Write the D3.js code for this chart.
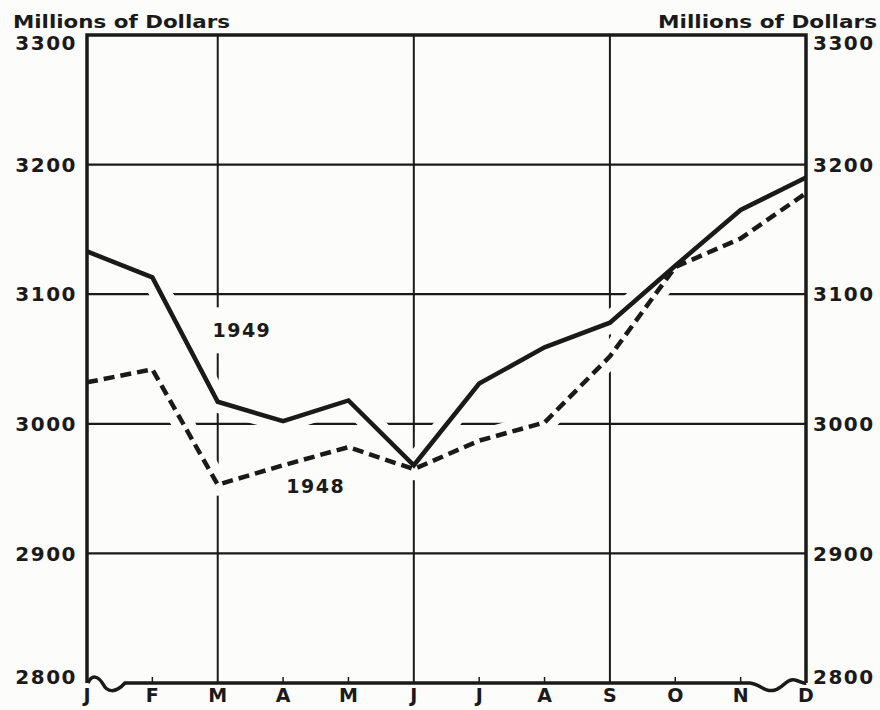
<!DOCTYPE html>
<html>
<head>
<meta charset="utf-8">
<script src="https://cdn.jsdelivr.net/npm/d3@7"></script>
<style>
  html, body { margin: 0; padding: 0; background: #fcfcfa; }
  svg { display: block; }
  text { font-family: "DejaVu Sans", sans-serif; font-weight: bold; fill: #1a1a1a; }
</style>
</head>
<body>
<svg></svg>
<script>
// month initials along the bottom
const months = ["J", "F", "M", "A", "M", "J", "J", "A", "S", "O", "N", "D"];
// millions of dollars
const values1949 = [3133, 3113, 3017, 3002, 3018, 2968, 3031, 3059, 3078, 3122, 3165, 3190];
const values1948 = [3032, 3042, 2953, 2968, 2982, 2965, 2987, 3001, 3052, 3121, 3143, 3178];
const yTicks = [2800, 2900, 3000, 3100, 3200, 3300];
const axisTitle = "Millions of Dollars";

function main() {
    const width = 880;
    const height = 710;
    const margin = {top: 35, right: 74, bottom: 27, left: 87};
    const ink = "#1a1a1a";
    const paper = "#fcfcfa";

    const svg = d3.select("svg")
        .attr("width", width)
        .attr("height", height);

    svg.append("rect")
        .attr("width", width)
        .attr("height", height)
        .attr("fill", paper);

    const x = d3.scaleLinear().domain([0, months.length - 1]).range([margin.left, width - margin.right]);
    const y = d3.scaleLinear().domain([2800, 3300]).range([height - margin.bottom, margin.top]);

    const x0 = x.range()[0], x1 = x.range()[1];
    const yTop = y(3300), yBase = y(2800);

    svg.append("clipPath").attr("id", "plot")
        .append("rect")
        .attr("x", x0).attr("y", yTop)
        .attr("width", x1 - x0).attr("height", yBase - yTop);

    // grid: inner horizontal lines and quarter verticals
    const grid = svg.append("g").attr("stroke", ink).attr("fill", "none");
    grid.selectAll("line.h")
        .data(yTicks.filter(t => t > 2800 && t < 3300))
        .enter().append("line")
        .attr("class", "h")
        .attr("x1", x0).attr("x2", x1)
        .attr("y1", d => y(d)).attr("y2", d => y(d))
        .attr("stroke-width", 2.2);
    grid.selectAll("line.v")
        .data([2, 5, 8])
        .enter().append("line")
        .attr("class", "v")
        .attr("x1", d => x(d)).attr("x2", d => x(d))
        .attr("y1", yTop).attr("y2", yBase)
        .attr("stroke-width", 2);

    const line = d3.line()
        .x((d, i) => x(i))
        .y(d => y(d));

    // white halo under the curves breaks the grid where they cross
    const halo = svg.append("g").attr("clip-path", "url(#plot)");
    [values1948, values1949].forEach(vals => {
        halo.append("path")
            .attr("d", line(vals))
            .attr("fill", "none")
            .attr("stroke", paper)
            .attr("stroke-width", 22)
            .attr("stroke-linejoin", "round");
    });

    // series labels
    const labels = [
        {text: "1949", i: 2.37, v: 3072},
        {text: "1948", i: 3.5, v: 2952}
    ];
    const lab = svg.append("g");
    labels.forEach(l => {
        const t = lab.append("text")
            .attr("x", x(l.i))
            .attr("y", y(l.v))
            .attr("dy", "0.36em")
            .attr("text-anchor", "middle")
            .attr("font-size", 19)
            .attr("letter-spacing", 1.5)
            .text(l.text);
        const bb = t.node().getBBox();
        lab.insert("rect", "text")
            .attr("x", bb.x - 4).attr("y", bb.y - 12)
            .attr("width", bb.width + 8).attr("height", bb.height + 24)
            .attr("fill", paper);
    });

    svg.append("path")
        .attr("d", line(values1948))
        .attr("fill", "none")
        .attr("stroke", ink)
        .attr("stroke-width", 4.5)
        .attr("stroke-dasharray", "11,6");

    svg.append("path")
        .attr("d", line(values1949))
        .attr("fill", "none")
        .attr("stroke", ink)
        .attr("stroke-width", 4.5);

    // frame: top, sides and broken baseline
    const frame = svg.append("g").attr("stroke", ink).attr("fill", "none").attr("stroke-width", 3.5);
    frame.append("path")
        .attr("d", `M${x0},${yBase} L${x0},${yTop} L${x1},${yTop} L${x1},${yBase}`)
        .attr("stroke-linejoin", "miter");

    const p = d3.path();
    p.moveTo(x0 + 1, yBase);
    p.bezierCurveTo(x0 + 5, yBase - 9, x0 + 11, yBase - 7, x0 + 16, yBase + 1);
    p.bezierCurveTo(x0 + 20, yBase + 9, x0 + 28, yBase + 11, x0 + 38, yBase);
    p.lineTo(x1 - 56, yBase);
    p.bezierCurveTo(x1 - 46, yBase + 1, x1 - 41, yBase + 10, x1 - 31, yBase + 7);
    p.bezierCurveTo(x1 - 23, yBase + 5, x1 - 19, yBase - 5, x1 - 11, yBase - 3);
    p.bezierCurveTo(x1 - 6, yBase - 2, x1 - 3, yBase + 1, x1, yBase);
    frame.append("path").attr("d", p.toString());

    // short month ticks on the baseline
    svg.append("g").selectAll("line")
        .data(d3.range(1, months.length - 1).filter(i => i % 3 !== 2))
        .enter().append("line")
        .attr("x1", d => x(d)).attr("x2", d => x(d))
        .attr("y1", yBase).attr("y2", yBase - 6)
        .attr("stroke", ink)
        .attr("stroke-width", 1.5);

    // month labels
    svg.append("g").selectAll("text")
        .data(months)
        .enter().append("text")
        .attr("x", (d, i) => x(i))
        .attr("y", yBase + 19)
        .attr("text-anchor", "middle")
        .attr("font-size", 19)
        .text(d => d);

    // value labels on both sides
    const tickDy = d => d === 3300 ? 8 : (d === 2800 ? -6 : 0);
    const yLabels = svg.append("g").attr("font-size", 20).attr("letter-spacing", 1.5);
    yLabels.selectAll("text.l")
        .data(yTicks)
        .enter().append("text")
        .attr("class", "l")
        .attr("x", x0 - 10)
        .attr("y", d => y(d) + tickDy(d))
        .attr("dy", "0.36em")
        .attr("text-anchor", "end")
        .text(d => d);
    yLabels.selectAll("text.r")
        .data(yTicks)
        .enter().append("text")
        .attr("class", "r")
        .attr("x", x1 + 7)
        .attr("y", d => y(d) + tickDy(d))
        .attr("dy", "0.36em")
        .attr("text-anchor", "start")
        .text(d => d);

    // unit titles
    svg.append("text")
        .attr("x", 13).attr("y", 28)
        .attr("font-size", 18)
        .attr("textLength", 217)
        .attr("lengthAdjust", "spacingAndGlyphs")
        .text(axisTitle);
    svg.append("text")
        .attr("x", 658).attr("y", 28)
        .attr("font-size", 18)
        .attr("textLength", 219)
        .attr("lengthAdjust", "spacingAndGlyphs")
        .text(axisTitle);
}

main();
</script>
</body>
</html>
